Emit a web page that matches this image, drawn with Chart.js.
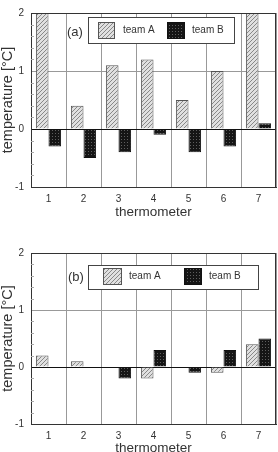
<!DOCTYPE html>
<html>
<head>
<meta charset="utf-8">
<script src="https://cdn.jsdelivr.net/npm/chart.js@4"></script>
<style>
    body { margin: 0; background: #fff; }
    .box { position: relative; width: 278px; height: 226px; }
</style>
</head>
<body>
<div class="box"><canvas id="chartA"></canvas></div>
<div class="box"><canvas id="chartB"></canvas></div>
<script>
var thermometers = ["1", "2", "3", "4", "5", "6", "7"];
var seriesNames = ["team A", "team B"];

// panel (a)
var teamA1 = [2, 0.4, 1.1, 1.2, 0.5, 1.0, 2];
var teamB1 = [-0.3, -0.5, -0.4, -0.1, -0.4, -0.3, 0.1];

// panel (b)
var teamA2 = [0.2, 0.1, null, -0.2, null, -0.1, 0.4];
var teamB2 = [null, null, -0.2, 0.3, -0.1, 0.3, 0.5];

var yMin = -1, yMax = 2, yStep = 0.2;

var FONT = "'Liberation Sans', Arial, sans-serif";

function hatchPattern() {
    var c = document.createElement("canvas");
    c.width = 4; c.height = 4;
    var ctx = c.getContext("2d");
    ctx.fillStyle = "#e0e0e0";
    ctx.fillRect(0, 0, 4, 4);
    ctx.strokeStyle = "#888";
    ctx.lineWidth = 1;
    ctx.beginPath();
    ctx.moveTo(0, 4); ctx.lineTo(4, 0);
    ctx.moveTo(-1, 1); ctx.lineTo(1, -1);
    ctx.moveTo(3, 5); ctx.lineTo(5, 3);
    ctx.stroke();
    return ctx.createPattern(c, "repeat");
}

function dotPattern() {
    var c = document.createElement("canvas");
    c.width = 3; c.height = 3;
    var ctx = c.getContext("2d");
    ctx.fillStyle = "#151515";
    ctx.fillRect(0, 0, 3, 3);
    ctx.fillStyle = "#5e5e5e";
    ctx.fillRect(1, 1, 1, 1);
    return ctx.createPattern(c, "repeat");
}

var hatch = hatchPattern();
var dots = dotPattern();

function isInt(v) {
    return Math.abs(v - Math.round(v)) < 1e-6;
}

// frame top/right line + small inner ticks on the left axis
var framePlugin = {
    id: "frame",
    afterDatasetsDraw: function(chart) {
        var ctx = chart.ctx, area = chart.chartArea, y = chart.scales.y;
        ctx.save();
        ctx.strokeStyle = "#aaa";
        ctx.lineWidth = 1;
        y.ticks.forEach(function(t) {
            if (isInt(t.value)) return;
            var py = Math.round(y.getPixelForValue(t.value)) + 0.5;
            ctx.beginPath();
            ctx.moveTo(area.left, py);
            ctx.lineTo(area.left + 3, py);
            ctx.stroke();
        });
        ctx.strokeStyle = "#333";
        ctx.beginPath();
        ctx.moveTo(area.left, Math.round(area.top) + 0.5);
        ctx.lineTo(area.right, Math.round(area.top) + 0.5);
        ctx.moveTo(Math.round(area.right) - 0.5, area.top);
        ctx.lineTo(Math.round(area.right) - 0.5, area.bottom);
        ctx.stroke();
        ctx.restore();
    }
};

// legend box drawn inside the plot
var boxLegendPlugin = {
    id: "boxLegend",
    afterDraw: function(chart, args, opts) {
        var ctx = chart.ctx;
        var ds = chart.data.datasets;
        ctx.save();
        ctx.fillStyle = "#fff";
        ctx.fillRect(opts.box[0], opts.box[1], opts.box[2], opts.box[3]);
        ctx.strokeStyle = "#444";
        ctx.lineWidth = 1;
        ctx.strokeRect(opts.box[0] + 0.5, opts.box[1] + 0.5, opts.box[2], opts.box[3]);

        ctx.fillStyle = "#333";
        ctx.font = "13px " + FONT;
        ctx.textBaseline = "middle";
        ctx.textAlign = "left";
        ctx.fillText(opts.label, opts.labelX, opts.labelY);

        ctx.font = "10px " + FONT;
        for (var i = 0; i < 2; i++) {
            var sw = opts.swatches[i];
            ctx.fillStyle = ds[i].backgroundColor;
            ctx.fillRect(sw[0], sw[1], sw[2], sw[3]);
            ctx.strokeStyle = ds[i].borderColor;
            ctx.strokeRect(sw[0] + 0.5, sw[1] + 0.5, sw[2] - 1, sw[3] - 1);
            ctx.fillStyle = "#333";
            ctx.fillText(ds[i].label, opts.textX[i], sw[1] + sw[3] / 2);
        }
        ctx.restore();
    }
};

function createChart(canvas, valuesA, valuesB, layout) {
    var data = {
        labels: thermometers,
        datasets: [
            {
                label: seriesNames[0],
                data: valuesA,
                backgroundColor: hatch,
                borderColor: "#555",
                borderWidth: 1
            },
            {
                label: seriesNames[1],
                data: valuesB,
                backgroundColor: dots,
                borderColor: "#111",
                borderWidth: 1
            }
        ]
    };
    return new Chart(canvas, {
        type: "bar",
        data: data,
        plugins: [framePlugin, boxLegendPlugin],
        options: {
            responsive: true,
            maintainAspectRatio: false,
            animation: false,
            categoryPercentage: 0.72,
            barPercentage: 1.0,
            layout: { padding: { left: 0, right: 2, top: layout.top, bottom: 0 } },
            plugins: {
                legend: { display: false },
                tooltip: { enabled: false },
                boxLegend: layout.legend
            },
            scales: {
                x: {
                    grid: { offset: true, color: "#999", drawTicks: false },
                    border: { color: "#333" },
                    ticks: { color: "#333", padding: 6, font: { family: FONT, size: 10 } },
                    title: {
                        display: true,
                        text: "thermometer",
                        color: "#333",
                        font: { family: FONT, size: 13.5, lineHeight: 1 },
                        padding: { top: 0, bottom: layout.titlePad }
                    },
                    afterFit: function(scale) { scale.height = layout.xHeight; }
                },
                y: {
                    min: yMin,
                    max: yMax,
                    border: { color: "#333" },
                    grid: {
                        drawTicks: false,
                        color: function(c) {
                            var v = c.tick.value;
                            if (Math.abs(v) < 1e-6) return "#111";
                            if (Math.abs(v - 1) < 1e-6) return "#999";
                            return "rgba(0,0,0,0)";
                        }
                    },
                    ticks: {
                        stepSize: yStep,
                        autoSkip: false,
                        padding: 7,
                        color: "#333",
                        font: { family: FONT, size: 10 },
                        callback: function(v) {
                            return isInt(v) ? String(Math.round(v)) : "";
                        }
                    },
                    title: {
                        display: true,
                        text: "temperature [°C]",
                        color: "#333",
                        font: { family: FONT, size: 14.5, lineHeight: 1 },
                        padding: { top: 1, bottom: 0 }
                    },
                    afterFit: function(scale) { scale.width = 31; }
                }
            }
        }
    });
}

var chartA = createChart(document.getElementById("chartA"), teamA1, teamB1, {
    top: 6, xHeight: 39, titlePad: 7,
    legend: {
        label: "(a)", labelX: 67, labelY: 32,
        box: [88, 17, 146, 26],
        swatches: [[98, 22, 17, 17], [167, 22, 18, 17]],
        textX: [123, 192]
    }
});

var chartB = createChart(document.getElementById("chartB"), teamA2, teamB2, {
    top: 27, xHeight: 28, titlePad: -3,
    legend: {
        label: "(b)", labelX: 68, labelY: 51,
        box: [88, 39, 170, 24],
        swatches: [[103, 42, 19, 17], [184, 42, 18, 17]],
        textX: [129, 209]
    }
});
</script>
</body>
</html>
